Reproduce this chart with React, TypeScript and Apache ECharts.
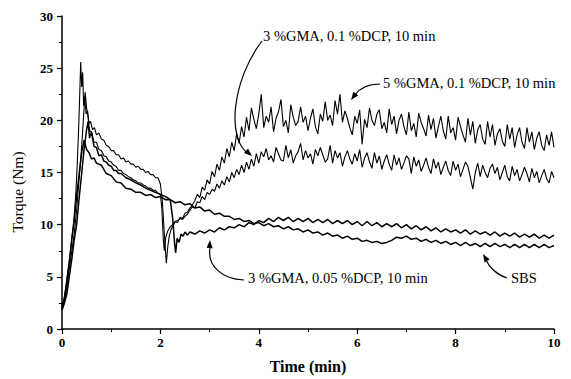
import React, { useEffect, useRef } from "react";
import * as echarts from "echarts";

// Time (min) vs torque (Nm)
const xTicks = [0, 2, 4, 6, 8, 10];
const yTicks = [0, 5, 10, 15, 20, 25, 30];
const xTitle = "Time (min)";
const yTitle = "Torque (Nm)";

const gma5dcp01: number[][] = [
  [0, 2.2], [0.04, 2.9], [0.08, 4.1], [0.12, 5.6], [0.16, 7.0], [0.2, 8.8], [0.24, 10.4], [0.28, 12.9], [0.31, 15.8], [0.34, 19.5],
  [0.36, 22.4], [0.38, 25.6], [0.4, 23.2], [0.42, 24.6], [0.44, 21.4], [0.46, 22.3], [0.49, 20.6], [0.52, 20.9], [0.55, 19.7], [0.58, 19.9],
  [0.62, 19.1], [0.66, 19.3], [0.7, 18.6], [0.75, 18.8], [0.8, 18.2], [0.85, 18.1], [0.9, 17.6], [0.95, 17.5], [1.0, 17.1], [1.05, 17.1],
  [1.1, 16.7], [1.15, 16.7], [1.2, 16.3], [1.25, 16.4], [1.3, 16.0], [1.35, 16.1], [1.4, 15.8], [1.45, 15.8], [1.5, 15.5], [1.55, 15.6],
  [1.6, 15.3], [1.65, 15.3], [1.7, 15.0], [1.75, 15.1], [1.8, 14.8], [1.85, 14.8], [1.9, 14.5], [1.95, 14.5], [2.0, 13.9], [2.04, 12.2],
  [2.08, 9.1], [2.12, 6.3], [2.15, 7.9], [2.18, 8.9], [2.22, 9.6], [2.26, 9.9], [2.3, 10.3], [2.35, 10.2], [2.4, 10.7], [2.45, 10.6],
  [2.5, 11.1], [2.55, 11.2], [2.6, 11.6], [2.65, 11.9], [2.7, 12.3], [2.75, 12.9], [2.8, 12.6], [2.85, 13.6], [2.9, 13.3], [2.95, 14.3],
  [3.0, 13.9], [3.05, 15.1], [3.1, 14.6], [3.15, 15.8], [3.2, 15.2], [3.25, 16.5], [3.3, 15.9], [3.35, 17.3], [3.4, 16.5], [3.45, 17.9],
  [3.5, 17.1], [3.55, 18.7], [3.6, 17.8], [3.65, 19.4], [3.7, 18.4], [3.75, 20.3], [3.8, 19.0], [3.85, 21.2], [3.9, 20.1], [3.95, 19.2],
  [4.0, 20.6], [4.05, 22.5], [4.1, 19.3], [4.15, 20.4], [4.2, 19.8], [4.25, 21.3], [4.3, 18.9], [4.35, 20.2], [4.4, 20.8], [4.45, 22.0],
  [4.5, 19.4], [4.55, 20.0], [4.6, 18.8], [4.65, 21.5], [4.7, 20.3], [4.75, 19.5], [4.8, 19.9], [4.85, 21.3], [4.9, 19.8], [4.95, 20.4],
  [5.0, 19.0], [5.05, 20.2], [5.1, 21.1], [5.15, 19.4], [5.2, 18.7], [5.25, 20.6], [5.3, 19.9], [5.35, 21.8], [5.4, 20.0], [5.45, 20.5],
  [5.5, 19.5], [5.55, 21.9], [5.6, 20.6], [5.65, 22.5], [5.7, 19.8], [5.75, 20.9], [5.8, 20.2], [5.85, 19.3], [5.9, 18.6], [5.95, 20.4],
  [6.0, 19.7], [6.05, 21.0], [6.1, 17.7], [6.15, 20.1], [6.2, 19.3], [6.25, 21.2], [6.3, 20.0], [6.35, 19.5], [6.4, 20.6], [6.45, 21.0],
  [6.5, 19.2], [6.55, 19.8], [6.6, 18.8], [6.65, 21.1], [6.7, 19.6], [6.75, 20.4], [6.8, 18.7], [6.85, 20.0], [6.9, 20.6], [6.95, 19.4],
  [7.0, 18.6], [7.05, 20.8], [7.1, 19.0], [7.15, 19.7], [7.2, 18.4], [7.25, 20.7], [7.3, 19.8], [7.35, 19.2], [7.4, 18.5], [7.45, 20.5],
  [7.5, 19.1], [7.55, 20.2], [7.6, 18.3], [7.65, 19.4], [7.7, 20.4], [7.75, 19.0], [7.8, 18.2], [7.85, 20.4], [7.9, 18.8], [7.95, 19.3],
  [8.0, 18.1], [8.05, 20.3], [8.1, 19.4], [8.15, 18.6], [8.2, 17.9], [8.25, 20.2], [8.3, 18.6], [8.35, 19.9], [8.4, 17.8], [8.45, 19.1],
  [8.5, 19.6], [8.55, 18.2], [8.6, 17.7], [8.65, 19.9], [8.7, 18.4], [8.75, 19.6], [8.8, 17.6], [8.85, 18.7], [8.9, 19.2], [8.95, 18.0],
  [9.0, 17.5], [9.05, 19.6], [9.1, 18.2], [9.15, 19.3], [9.2, 17.4], [9.25, 18.6], [9.3, 19.3], [9.35, 17.9], [9.4, 17.3], [9.45, 19.3],
  [9.5, 17.9], [9.55, 18.9], [9.6, 17.2], [9.65, 18.3], [9.7, 18.9], [9.75, 17.6], [9.8, 17.1], [9.85, 18.6], [9.9, 17.6], [9.95, 18.9],
  [10.0, 17.4],
];

const gma3dcp01: number[][] = [
  [0, 2.0], [0.05, 2.6], [0.1, 4.0], [0.15, 5.8], [0.2, 7.5], [0.25, 9.2], [0.3, 11.5], [0.35, 14.5], [0.4, 17.5], [0.44, 20.5],
  [0.47, 22.7], [0.5, 21.2], [0.53, 20.3], [0.56, 19.0], [0.6, 18.9], [0.65, 17.9], [0.7, 17.9], [0.75, 17.2], [0.8, 17.1], [0.85, 16.6],
  [0.9, 16.5], [0.95, 16.1], [1.0, 16.0], [1.05, 15.7], [1.1, 15.6], [1.15, 15.2], [1.2, 15.2], [1.25, 14.9], [1.3, 14.8], [1.35, 14.6],
  [1.4, 14.5], [1.45, 14.3], [1.5, 14.2], [1.55, 14.0], [1.6, 14.0], [1.65, 13.8], [1.7, 13.7], [1.75, 13.5], [1.8, 13.5], [1.85, 13.3],
  [1.9, 13.3], [1.95, 13.0], [2.0, 12.9], [2.03, 11.5], [2.06, 8.5], [2.08, 7.5], [2.11, 8.8], [2.15, 9.4], [2.2, 9.8], [2.25, 10.0],
  [2.3, 10.3], [2.35, 10.4], [2.4, 10.6], [2.45, 10.5], [2.5, 10.8], [2.55, 11.0], [2.6, 11.4], [2.65, 11.7], [2.7, 11.6], [2.75, 12.2],
  [2.8, 12.1], [2.85, 12.7], [2.9, 12.4], [2.95, 13.1], [3.0, 12.9], [3.05, 13.4], [3.1, 13.2], [3.15, 13.9], [3.2, 13.5], [3.25, 14.2],
  [3.3, 13.8], [3.35, 14.6], [3.4, 14.1], [3.45, 15.0], [3.5, 14.5], [3.55, 15.3], [3.6, 14.8], [3.65, 15.7], [3.7, 15.0], [3.75, 16.0],
  [3.8, 15.3], [3.85, 16.3], [3.9, 15.6], [3.95, 16.8], [4.0, 15.9], [4.05, 17.0], [4.1, 16.5], [4.15, 17.3], [4.2, 16.2], [4.25, 16.6],
  [4.3, 16.0], [4.35, 17.4], [4.4, 16.8], [4.45, 16.2], [4.5, 16.1], [4.55, 17.6], [4.6, 16.4], [4.65, 17.2], [4.7, 15.9], [4.75, 16.6],
  [4.8, 17.0], [4.85, 17.8], [4.9, 16.2], [4.95, 17.1], [5.0, 16.4], [5.05, 16.8], [5.1, 15.8], [5.15, 17.2], [5.2, 16.6], [5.25, 17.4],
  [5.3, 16.7], [5.35, 16.0], [5.4, 16.3], [5.45, 17.6], [5.5, 15.9], [5.55, 17.1], [5.6, 16.4], [5.65, 16.9], [5.7, 15.6], [5.75, 16.5],
  [5.8, 17.1], [5.85, 16.3], [5.9, 15.8], [5.95, 16.8], [6.0, 16.1], [6.05, 17.2], [6.1, 15.5], [6.15, 16.4], [6.2, 16.9], [6.25, 16.0],
  [6.3, 15.4], [6.35, 16.9], [6.4, 15.9], [6.45, 16.6], [6.5, 15.3], [6.55, 16.1], [6.6, 16.7], [6.65, 15.8], [6.7, 15.2], [6.75, 16.7],
  [6.8, 15.7], [6.85, 16.4], [6.9, 15.3], [6.95, 15.9], [7.0, 16.6], [7.05, 16.3], [7.1, 14.9], [7.15, 16.5], [7.2, 15.6], [7.25, 16.2],
  [7.3, 15.1], [7.35, 15.7], [7.4, 16.4], [7.45, 15.5], [7.5, 14.9], [7.55, 16.3], [7.6, 15.4], [7.65, 16.0], [7.7, 14.8], [7.75, 15.5],
  [7.8, 16.1], [7.85, 15.2], [7.9, 14.7], [7.95, 16.1], [8.0, 15.2], [8.05, 15.8], [8.1, 14.6], [8.15, 15.3], [8.2, 16.0], [8.25, 15.6],
  [8.3, 14.5], [8.35, 13.4], [8.4, 15.0], [8.45, 15.9], [8.5, 14.6], [8.55, 15.7], [8.6, 15.0], [8.65, 14.5], [8.7, 15.4], [8.75, 15.8],
  [8.8, 14.9], [8.85, 15.5], [8.9, 14.3], [8.95, 15.0], [9.0, 15.7], [9.05, 14.6], [9.1, 14.2], [9.15, 15.6], [9.2, 14.7], [9.25, 15.3],
  [9.3, 14.2], [9.35, 14.8], [9.4, 15.5], [9.45, 14.9], [9.5, 14.1], [9.55, 15.4], [9.6, 14.5], [9.65, 15.1], [9.7, 14.0], [9.75, 14.7],
  [9.8, 15.3], [9.85, 14.4], [9.9, 14.0], [9.95, 15.1], [10.0, 14.5],
];

const gma3dcp005: number[][] = [
  [0, 1.8], [0.05, 2.5], [0.1, 3.4], [0.15, 5.1], [0.2, 6.7], [0.25, 8.6], [0.3, 10.1], [0.35, 12.6], [0.4, 14.9], [0.45, 17.3],
  [0.5, 19.1], [0.53, 19.9], [0.56, 18.3], [0.6, 18.9], [0.65, 17.5], [0.7, 17.4], [0.75, 16.6], [0.8, 16.7], [0.85, 16.1], [0.9, 16.0],
  [0.95, 15.7], [1.0, 15.6], [1.05, 15.2], [1.1, 15.2], [1.15, 14.9], [1.2, 14.9], [1.3, 14.5], [1.4, 14.3], [1.5, 14.0], [1.6, 13.8],
  [1.7, 13.5], [1.8, 13.3], [1.9, 13.1], [2.0, 12.9], [2.1, 12.7], [2.2, 12.4], [2.25, 10.6], [2.29, 8.1], [2.31, 7.3], [2.34, 8.7],
  [2.38, 8.3], [2.42, 9.1], [2.46, 8.9], [2.5, 9.3], [2.55, 9.0], [2.6, 9.3], [2.7, 9.1], [2.8, 9.4], [2.9, 9.2], [3.0, 9.5],
  [3.1, 9.3], [3.2, 9.7], [3.3, 9.5], [3.4, 9.8], [3.5, 9.7], [3.6, 10.0], [3.7, 9.8], [3.8, 10.2], [3.9, 10.0], [4.0, 10.4],
  [4.1, 10.2], [4.2, 10.6], [4.3, 10.3], [4.4, 10.7], [4.5, 10.4], [4.6, 10.7], [4.7, 10.3], [4.8, 10.6], [4.9, 10.3], [5.0, 10.6],
  [5.1, 10.2], [5.2, 10.5], [5.3, 10.2], [5.4, 10.5], [5.5, 10.1], [5.6, 10.4], [5.7, 10.1], [5.8, 10.4], [5.9, 10.0], [6.0, 10.3],
  [6.1, 9.9], [6.2, 10.3], [6.3, 9.9], [6.4, 10.2], [6.5, 9.8], [6.6, 10.1], [6.7, 9.8], [6.8, 10.1], [6.9, 9.7], [7.0, 10.0],
  [7.1, 9.6], [7.2, 9.9], [7.3, 9.5], [7.4, 9.8], [7.5, 9.4], [7.6, 9.7], [7.7, 9.3], [7.8, 9.6], [7.9, 9.3], [8.0, 9.5],
  [8.1, 9.2], [8.2, 9.5], [8.3, 9.1], [8.4, 9.4], [8.5, 9.1], [8.6, 9.3], [8.7, 9.0], [8.8, 9.3], [8.9, 8.9], [9.0, 9.2],
  [9.1, 8.9], [9.2, 9.2], [9.3, 8.8], [9.4, 9.1], [9.5, 8.8], [9.6, 9.1], [9.7, 8.7], [9.8, 9.0], [9.9, 8.7], [10.0, 9.0],
];

const sbs: number[][] = [
  [0, 2.0], [0.05, 2.9], [0.1, 4.6], [0.15, 6.4], [0.2, 8.6], [0.25, 10.4], [0.3, 12.9], [0.35, 14.9], [0.4, 16.9], [0.45, 18.1],
  [0.5, 17.2], [0.55, 16.9], [0.6, 16.3], [0.65, 16.4], [0.7, 15.9], [0.8, 15.7], [0.9, 14.9], [1.0, 14.7], [1.1, 14.1], [1.2, 14.0],
  [1.3, 13.5], [1.4, 13.4], [1.5, 13.1], [1.6, 13.1], [1.7, 12.8], [1.8, 12.9], [1.9, 12.6], [2.0, 12.7], [2.1, 12.4], [2.2, 12.4],
  [2.3, 12.1], [2.4, 12.2], [2.5, 11.9], [2.6, 12.0], [2.7, 11.6], [2.8, 11.7], [2.9, 11.3], [3.0, 11.4], [3.1, 11.0], [3.2, 11.1],
  [3.3, 10.8], [3.4, 10.8], [3.5, 10.5], [3.6, 10.6], [3.7, 10.3], [3.8, 10.4], [3.9, 10.1], [4.0, 10.2], [4.1, 9.9], [4.2, 10.1],
  [4.3, 9.8], [4.4, 9.9], [4.5, 9.6], [4.6, 9.8], [4.7, 9.5], [4.8, 9.6], [4.9, 9.3], [5.0, 9.5], [5.1, 9.2], [5.2, 9.3],
  [5.3, 9.0], [5.4, 9.2], [5.5, 8.9], [5.6, 9.0], [5.7, 8.7], [5.8, 8.9], [5.9, 8.6], [6.0, 8.7], [6.1, 8.4], [6.2, 8.5],
  [6.3, 8.3], [6.4, 8.4], [6.5, 8.2], [6.6, 8.3], [6.7, 8.5], [6.8, 8.8], [6.9, 8.7], [7.0, 8.9], [7.1, 8.6], [7.2, 8.7],
  [7.3, 8.4], [7.4, 8.6], [7.5, 8.3], [7.6, 8.5], [7.7, 8.2], [7.8, 8.4], [7.9, 8.1], [8.0, 8.3], [8.1, 8.0], [8.2, 8.3],
  [8.3, 8.0], [8.4, 8.2], [8.5, 7.9], [8.6, 8.2], [8.7, 7.9], [8.8, 8.2], [8.9, 7.9], [9.0, 8.1], [9.1, 7.8], [9.2, 8.1],
  [9.3, 7.8], [9.4, 8.1], [9.5, 7.8], [9.6, 8.1], [9.7, 7.8], [9.8, 8.1], [9.9, 7.8], [10.0, 8.0],
];

const seriesNames = [
  "5 %GMA, 0.1 %DCP, 10 min",
  "3 %GMA, 0.1 %DCP, 10 min",
  "3 %GMA, 0.05 %DCP, 10 min",
  "SBS",
];
const seriesWidths = [1.1, 1.1, 1.5, 1.5];

const SERIF = "'Liberation Serif', 'Times New Roman', serif";

function arrowHead(tip: number[], dir: number[], len = 8, half = 3) {
  const n = Math.hypot(dir[0], dir[1]);
  const dx = dir[0] / n;
  const dy = dir[1] / n;
  const bx = tip[0] - dx * len;
  const by = tip[1] - dy * len;
  return {
    type: "polygon",
    shape: { points: [tip, [bx - dy * half, by + dx * half], [bx + dy * half, by - dx * half]] },
    style: { fill: "#000" },
  };
}

function label(text: string, x: number, y: number) {
  return {
    type: "text",
    x,
    y,
    style: { text, fontFamily: SERIF, fontSize: 14.5, fill: "#000", align: "left", verticalAlign: "middle" },
  };
}

function curve(p: number[]) {
  return {
    type: "bezierCurve",
    shape: { x1: p[0], y1: p[1], cpx1: p[2], cpy1: p[3], cpx2: p[4], cpy2: p[5], x2: p[6], y2: p[7] },
    style: { stroke: "#000", lineWidth: 1.2, fill: null },
  };
}

export default function App() {
  const ref = useRef<HTMLDivElement>(null);
  useEffect(() => {
    if (!ref.current) return;
    const chart = echarts.init(ref.current, null, { renderer: "svg" });
    const datasets = [gma5dcp01, gma3dcp01, gma3dcp005, sbs];
    chart.setOption({
      animation: false,
      backgroundColor: "#fff",
      grid: { left: 62, right: 17, top: 16, bottom: 45, containLabel: false },
      xAxis: {
        type: "value",
        min: xTicks[0],
        max: xTicks[xTicks.length - 1],
        interval: 2,
        name: xTitle,
        nameLocation: "middle",
        nameGap: 29,
        nameTextStyle: { fontFamily: SERIF, fontSize: 16, fontWeight: "bold", color: "#000" },
        axisLine: { lineStyle: { color: "#000", width: 1.5 } },
        axisTick: { length: 5, lineStyle: { color: "#000", width: 1.2 } },
        minorTick: { show: true, splitNumber: 2, length: 3, lineStyle: { color: "#000", width: 1 } },
        splitLine: { show: false },
        axisLabel: { fontFamily: SERIF, fontSize: 13, color: "#000", margin: 7, fontWeight: "bold" },
      },
      yAxis: {
        type: "value",
        min: yTicks[0],
        max: yTicks[yTicks.length - 1],
        interval: 5,
        axisLine: { show: true, lineStyle: { color: "#000", width: 1.5 } },
        axisTick: { show: true, length: 5, lineStyle: { color: "#000", width: 1.2 } },
        minorTick: { show: true, splitNumber: 2, length: 3, lineStyle: { color: "#000", width: 1 } },
        splitLine: { show: false },
        axisLabel: { fontFamily: SERIF, fontSize: 13, color: "#000", margin: 9, fontWeight: "bold" },
      },
      series: datasets.map((d, i) => ({
        name: seriesNames[i],
        type: "line",
        data: d,
        showSymbol: false,
        symbol: "none",
        lineStyle: { color: "#000", width: seriesWidths[i] },
        z: 2,
      })),
      graphic: [
        {
          type: "text",
          x: 17,
          y: 192,
          rotation: Math.PI / 2,
          style: { text: yTitle, fontFamily: SERIF, fontSize: 15.5, fill: "#000", align: "center", verticalAlign: "middle" },
        },
        label(seriesNames[1], 263, 36),
        curve([262, 41, 232, 80, 226, 140, 249, 154]),
        arrowHead([252, 156], [1, 0.9]),
        label(seriesNames[0], 383, 83),
        curve([380, 84, 368, 84, 360, 88, 355, 95]),
        arrowHead([351, 100], [-0.6, 0.8]),
        label(seriesNames[2], 248, 278),
        curve([244, 280, 222, 279, 207, 266, 210, 248]),
        arrowHead([210, 240], [0.05, -1]),
        label(seriesNames[3], 511, 278),
        curve([507, 278, 497, 275, 489, 267, 486, 260]),
        arrowHead([483, 254], [-0.5, -0.85]),
      ],
    });
    return () => chart.dispose();
  }, []);
  return (
    <div
      ref={ref}
      style={{ position: "fixed", left: 0, top: 0, width: 571, height: 379, background: "#fff" }}
    />
  );
}
